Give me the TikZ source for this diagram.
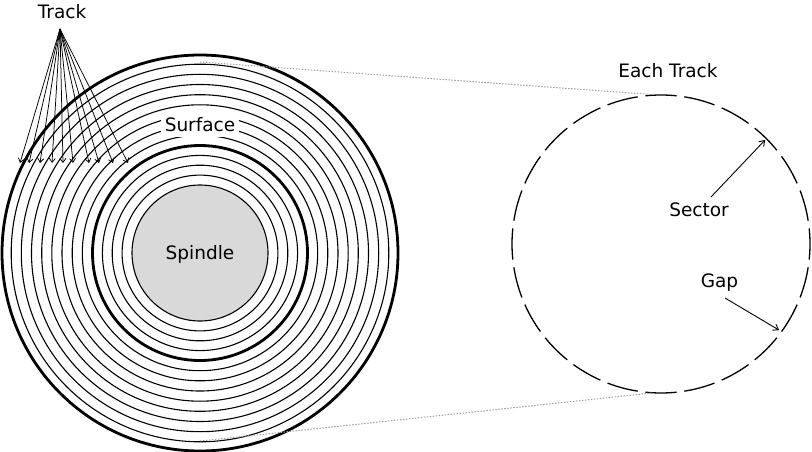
\documentclass[tikz,border=0pt]{standalone}
\usepackage{fontspec}
\setmainfont{DejaVu Sans}
\usetikzlibrary{arrows.meta}
\definecolor{spin}{HTML}{D9D9D9}
\definecolor{dotgray}{HTML}{A0A0A0}
\tikzset{
  thinring/.style={line width=1.1pt},
  thickring/.style={line width=2.8pt},
  lbl/.style={font=\fontsize{18.5}{20}\selectfont, inner sep=0pt, anchor=base},
  trackarrow/.style={line width=0.75pt, -{Straight Barb[length=4pt,width=6pt]}},
  ptrarrow/.style={line width=0.9pt, -{Straight Barb[length=5pt,width=7pt]}},
  zoomline/.style={dotgray, line width=1pt, dash pattern=on 1.5pt off 1.5pt},
  sectorarc/.style={line width=1.3pt}
}
\begin{document}
\begin{tikzpicture}[x=1pt,y=-1pt]
\useasboundingbox (0,0) rectangle (812,452);
% platter
\coordinate (c) at (200,253);
\foreach \r in {117.7,127.8,138,148.2,158.3,168.5,178.7,188.8} {
  \draw[thinring] (c) circle[radius=\r];
}
\foreach \r in {77.9,87.8,97.6} {
  \draw[thinring] (c) circle[radius=\r];
}
\draw[thickring] (c) circle[radius=198];
\draw[thickring] (c) circle[radius=107.5];
\node[circle, draw, line width=1.1pt, fill=spin, minimum size=136pt, inner sep=0pt] (spindle) at (c) {};
\node[lbl] (spindlelbl) at (200,259.5) {Spindle};
% surface label with white background
\node[fill=white, minimum width=78pt, minimum height=24pt, inner sep=0pt] (surfbg) at (200,125) {};
\node[lbl] (surface) at (200,131.5) {Surface};
% track label and arrows
\node[lbl] (track) at (62,18.5) {Track};
\coordinate (apex) at (60,29);
\foreach \x [count=\i] in {20,29,40,52,63,73,89,99,113,128} {
  \coordinate (t\i) at (\x,163);
  \draw[trackarrow] (apex) -- (t\i);
}
% zoomed track
\node[circle, minimum size=298pt, inner sep=0pt] (each) at (661,244) {};
\foreach \k in {0,...,23} {
  \draw[sectorarc] ([shift={(90+15*\k-6:149)}]each.center) arc[start angle=90+15*\k-6, end angle=90+15*\k+6, radius=149];
}
\node[lbl] (eachlbl) at (668,77.5) {Each Track};
\node[lbl] (sector) at (699,216.5) {Sector};
\node[lbl] (gap) at (719.5,287.5) {Gap};
\coordinate (s1) at (711,197);
\coordinate (g1) at (725,298);
\draw[ptrarrow, shorten >=2pt] (s1) -- (each.45);
\draw[ptrarrow, shorten >=3pt] (g1) -- (each.-36);
% zoom lines
\coordinate (ztop) at (200,62);
\coordinate (zbot) at (200,441);
\coordinate (ctop) at (652,94.5);
\coordinate (cbot) at (652,393);
\draw[zoomline] (ztop) -- (ctop);
\draw[zoomline] (zbot) -- (cbot);
\end{tikzpicture}
\end{document}
